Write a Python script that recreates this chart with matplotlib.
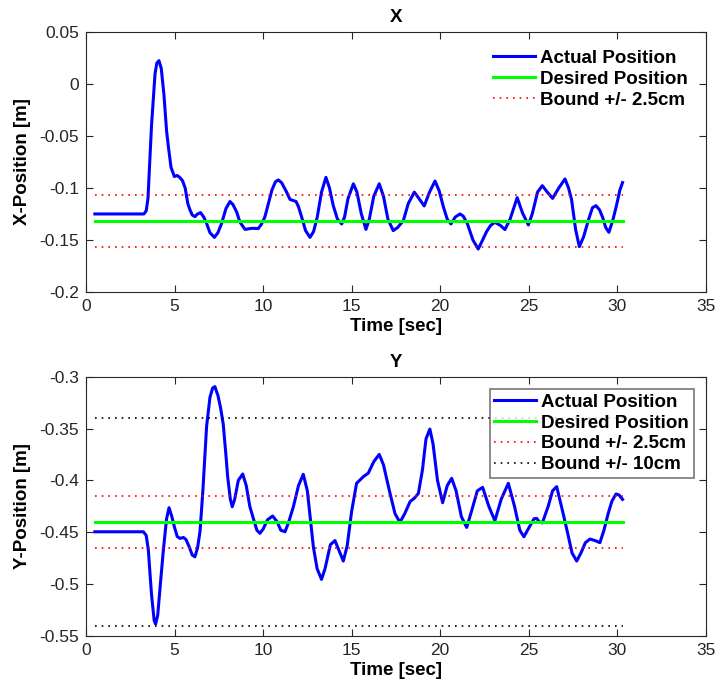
import matplotlib.pyplot as plt

plt.rcParams["font.family"] = ["Liberation Sans", "DejaVu Sans"]

# X position
t_x = [0.5, 3.27, 3.4, 3.5, 3.7, 3.9, 4.0, 4.12, 4.25, 4.4, 4.55, 4.65, 4.8,
       4.99, 5.15, 5.3, 5.45, 5.6, 5.75, 5.87, 6.0, 6.15, 6.3, 6.47, 6.65,
       6.81, 7.0, 7.25, 7.45, 7.66, 7.9, 8.13, 8.3, 8.5, 8.7, 8.98, 9.36, 9.73,
       9.9, 10.1, 10.3, 10.5, 10.7, 10.86, 11.05, 11.3, 11.52, 11.86, 12.0,
       12.18, 12.4, 12.65, 12.85, 13.06, 13.3, 13.55, 13.75, 13.96, 14.2,
       14.44, 14.6, 14.8, 15.1, 15.3, 15.55, 15.81, 16.0, 16.25, 16.56, 16.8,
       17.05, 17.35, 17.6, 17.92, 18.2, 18.54, 18.8, 19.1, 19.4, 19.71, 19.95,
       20.18, 20.4, 20.61, 20.85, 21.12, 21.3, 21.53, 21.85, 22.15, 22.4,
       22.62, 22.85, 23.09, 23.4, 23.66, 23.95, 24.35, 24.65, 24.98, 25.2,
       25.5, 25.77, 26.05, 26.35, 26.7, 27.05, 27.25, 27.42, 27.65, 27.86,
       28.1, 28.37, 28.6, 28.8, 29.0, 29.17, 29.35, 29.53, 29.75, 29.96,
       30.15, 30.3]
x_pos = [-0.125, -0.125, -0.122, -0.11, -0.04, 0.01, 0.02, 0.0224, 0.015,
         -0.01, -0.045, -0.06, -0.08, -0.089, -0.088, -0.09, -0.093, -0.1,
         -0.115, -0.121, -0.126, -0.1276, -0.125, -0.1237, -0.128, -0.134,
         -0.143, -0.1475, -0.143, -0.134, -0.12, -0.113, -0.116, -0.1228,
         -0.133, -0.1398, -0.1388, -0.139, -0.135, -0.128, -0.115, -0.102,
         -0.094, -0.0923, -0.095, -0.103, -0.111, -0.113, -0.118, -0.128,
         -0.141, -0.1475, -0.142, -0.128, -0.104, -0.0898, -0.1, -0.1167,
         -0.13, -0.1346, -0.128, -0.11, -0.096, -0.104, -0.125, -0.1398,
         -0.13, -0.108, -0.096, -0.108, -0.13, -0.141, -0.138, -0.1314,
         -0.115, -0.104, -0.11, -0.1173, -0.104, -0.0933, -0.103, -0.118,
         -0.13, -0.1346, -0.128, -0.125, -0.127, -0.134, -0.15, -0.1587,
         -0.15, -0.142, -0.136, -0.133, -0.136, -0.140, -0.13, -0.1093,
         -0.124, -0.1356, -0.125, -0.104, -0.0978, -0.104, -0.110, -0.1,
         -0.0913, -0.1, -0.111, -0.14, -0.1564, -0.147, -0.131, -0.119,
         -0.117, -0.121, -0.128, -0.138, -0.1426, -0.131, -0.1167, -0.102,
         -0.0948]

# Y position
t_y = [0.5, 3.24, 3.4, 3.52, 3.7, 3.85, 3.93, 4.05, 4.2, 4.37, 4.55, 4.69,
       4.85, 4.99, 5.15, 5.31, 5.5, 5.65, 5.85, 6.0, 6.15, 6.3, 6.44, 6.6,
       6.81, 7.0, 7.15, 7.28, 7.45, 7.6, 7.75, 7.9, 8.0, 8.15, 8.26, 8.4, 8.6,
       8.85, 9.05, 9.25, 9.45, 9.65, 9.82, 10.0, 10.25, 10.54, 10.8, 11.0,
       11.24, 11.45, 11.71, 12.0, 12.27, 12.5, 12.84, 13.05, 13.3, 13.5, 13.8,
       14.06, 14.3, 14.53, 14.75, 15.0, 15.28, 15.66, 15.94, 16.25, 16.56,
       16.8, 17.0, 17.17, 17.45, 17.73, 18.0, 18.3, 18.55, 18.77, 19.0, 19.2,
       19.42, 19.6, 19.85, 20.14, 20.4, 20.65, 20.9, 21.2, 21.5, 21.8, 22.1,
       22.4, 22.75, 23.09, 23.45, 23.85, 24.2, 24.5, 24.73, 25.0, 25.3, 25.45,
       25.6, 25.77, 26.1, 26.35, 26.58, 26.85, 27.14, 27.45, 27.71, 27.95,
       28.2, 28.46, 28.75, 29.02, 29.25, 29.49, 29.7, 29.93, 30.1, 30.3]
y_pos = [-0.4495, -0.4495, -0.453, -0.467, -0.51, -0.535, -0.5385, -0.53,
         -0.5, -0.467, -0.437, -0.4263, -0.435, -0.4446, -0.454, -0.4559,
         -0.455, -0.457, -0.465, -0.472, -0.4736, -0.465, -0.449, -0.41,
         -0.348, -0.32, -0.311, -0.3096, -0.318, -0.33, -0.3457, -0.375,
         -0.3964, -0.418, -0.4254, -0.418, -0.4, -0.3938, -0.405, -0.425,
         -0.4366, -0.448, -0.451, -0.447, -0.438, -0.4343, -0.44, -0.448,
         -0.4495, -0.44, -0.4254, -0.405, -0.3941, -0.41, -0.464, -0.485,
         -0.4954, -0.485, -0.462, -0.458, -0.468, -0.4777, -0.463, -0.43,
         -0.4028, -0.3964, -0.393, -0.382, -0.3749, -0.385, -0.4, -0.4125,
         -0.432, -0.4405, -0.432, -0.4205, -0.417, -0.4125, -0.39, -0.36,
         -0.3505, -0.365, -0.4, -0.4215, -0.405, -0.398, -0.41, -0.435,
         -0.4453, -0.428, -0.41, -0.4067, -0.425, -0.4389, -0.418, -0.4028,
         -0.425, -0.448, -0.4543, -0.446, -0.437, -0.4366, -0.44, -0.441,
         -0.425, -0.41, -0.406, -0.425, -0.4463, -0.47, -0.4777, -0.47,
         -0.46, -0.4565, -0.458, -0.460, -0.448, -0.4318, -0.42, -0.4131,
         -0.414, -0.4183]

x_desired = -0.1314
y_desired = -0.44
bound_small = 0.025
bound_big = 0.10
t_range = [0.5, 30.3]

fig = plt.figure(figsize=(7.19, 6.87), dpi=100)
ax1 = fig.add_axes([0.1196, 0.575, 0.862, 0.3785])
ax2 = fig.add_axes([0.1196, 0.0742, 0.862, 0.3775])

leg_font = {"weight": "bold", "size": 13.5}
lab_size = 13.5

# Grafico X
ax1.plot(t_x, x_pos, color="#0000ff", lw=2.2, label="Actual Position")
ax1.plot(t_range, [x_desired, x_desired], color="#00ff00", lw=2.2, label="Desired Position")
ax1.plot(t_range, [x_desired + bound_small] * 2, color="red", lw=1.2, ls=(0, (1, 3)),
         label="Bound +/- 2.5cm")
ax1.plot(t_range, [x_desired - bound_small] * 2, color="red", lw=1.2, ls=(0, (1, 3)))
ax1.set_ylim(-0.2, 0.05)
ax1.set_yticks([-0.2, -0.15, -0.1, -0.05, 0, 0.05])
ax1.set_yticklabels(["-0.2", "-0.15", "-0.1", "-0.05", "0", "0.05"])
ax1.set_title("X", fontsize=lab_size, fontweight="bold", pad=7)
ax1.set_ylabel("X-Position [m]", fontsize=lab_size, fontweight="bold", labelpad=6)
leg1 = ax1.legend(loc="upper right", frameon=False, prop=leg_font,
                  handlelength=2.2, borderaxespad=0.55, labelspacing=0.2, handletextpad=0.3)

# Grafico Y
ax2.plot(t_y, y_pos, color="#0000ff", lw=2.2, label="Actual Position")
ax2.plot(t_range, [y_desired, y_desired], color="#00ff00", lw=2.2, label="Desired Position")
ax2.plot(t_range, [y_desired + bound_small] * 2, color="red", lw=1.2, ls=(0, (1, 3)),
         label="Bound +/- 2.5cm")
ax2.plot(t_range, [y_desired - bound_small] * 2, color="red", lw=1.2, ls=(0, (1, 3)))
ax2.plot(t_range, [y_desired + bound_big] * 2, color="black", lw=1.2, ls=(0, (1, 3)),
         label="Bound +/- 10cm")
ax2.plot(t_range, [y_desired - bound_big] * 2, color="black", lw=1.2, ls=(0, (1, 3)))
ax2.set_ylim(-0.55, -0.3)
ax2.set_yticks([-0.55, -0.5, -0.45, -0.4, -0.35, -0.3])
ax2.set_yticklabels(["-0.55", "-0.5", "-0.45", "-0.4", "-0.35", "-0.3"])
ax2.set_title("Y", fontsize=lab_size, fontweight="bold", pad=7)
ax2.set_ylabel("Y-Position [m]", fontsize=lab_size, fontweight="bold", labelpad=6)
leg2 = ax2.legend(loc="upper right", frameon=True, fancybox=False, prop=leg_font,
                  handlelength=2.2, borderaxespad=0.65, labelspacing=0.2, handletextpad=0.3,
                  borderpad=0.25)
leg2.get_frame().set_edgecolor("#555555")
leg2.get_frame().set_linewidth(1.2)

for leg in (leg1, leg2):
    for txt in leg.get_texts():
        txt.set_fontweight("bold")

for ax in (ax1, ax2):
    ax.set_xlim(0, 35)
    ax.set_xticks([0, 5, 10, 15, 20, 25, 30, 35])
    ax.set_xlabel("Time [sec]", fontsize=lab_size, fontweight="bold", labelpad=3)
    ax.tick_params(direction="in", labelsize=12.5, colors="#262626", length=5,
                   top=True, right=True, pad=5)
    for s in ax.spines.values():
        s.set_color("#262626")
        s.set_linewidth(0.8)

plt.savefig("out.png", dpi=100)
